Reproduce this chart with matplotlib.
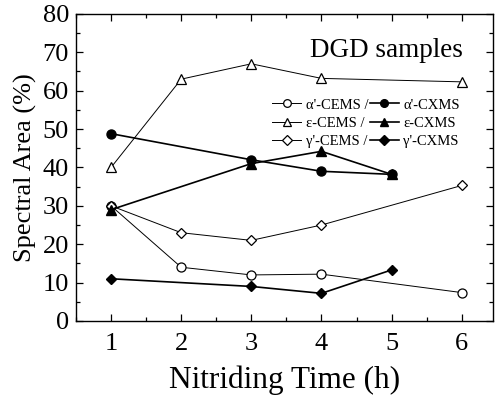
import matplotlib
matplotlib.use("Agg")
import matplotlib.pyplot as plt
from matplotlib.ticker import MultipleLocator

plt.rcParams['font.family'] = ['Liberation Serif', 'DejaVu Serif']
plt.rcParams['mathtext.fontset'] = 'stix'

# Data
alpha_cems_x = [1, 2, 3, 4, 6]
alpha_cems_y = [30, 14, 12, 12.2, 7.4]
alpha_cxms_x = [1, 3, 4, 5]
alpha_cxms_y = [48.8, 42, 39, 38.2]
eps_cems_x = [1, 2, 3, 4, 6]
eps_cems_y = [40, 63, 67, 63.2, 62.3]
eps_cxms_x = [1, 3, 4, 5]
eps_cxms_y = [29, 41, 44.2, 38.2]
gam_cems_x = [1, 2, 3, 4, 6]
gam_cems_y = [30, 23, 21, 25, 35.3]
gam_cxms_x = [1, 3, 4, 5]
gam_cxms_y = [11, 9, 7.2, 13.3]

xticks = [1, 2, 3, 4, 5, 6]
yticks = [0, 10, 20, 30, 40, 50, 60, 70, 80]

fig = plt.figure(figsize=(4.95, 4.03), dpi=100)
ax = fig.add_axes([0.1535, 0.2035, 0.843, 0.762])

ms = 6.5
thin = 0.7
thick = 1.2
ax.plot(alpha_cems_x, alpha_cems_y, '-', color='black', lw=thin, marker='o', ms=ms,
        mfc='white', mec='black', mew=0.9, label="α'-CEMS /", zorder=3)
ax.plot(eps_cems_x, eps_cems_y, '-', color='black', lw=thin, marker='^', ms=ms + 0.5,
        mfc='white', mec='black', mew=0.9, label="ε-CEMS /", zorder=3)
ax.plot(gam_cems_x, gam_cems_y, '-', color='black', lw=thin, marker='D', ms=ms - 1,
        mfc='white', mec='black', mew=0.9, label="γ'-CEMS /", zorder=3)
ax.plot(alpha_cxms_x, alpha_cxms_y, '-', color='black', lw=thick, marker='o', ms=ms,
        mfc='black', mec='black', label="α'-CXMS", zorder=4)
ax.plot(eps_cxms_x, eps_cxms_y, '-', color='black', lw=thick, marker='^', ms=ms + 0.5,
        mfc='black', mec='black', label="ε-CXMS", zorder=4)
ax.plot(gam_cxms_x, gam_cxms_y, '-', color='black', lw=thick, marker='D', ms=ms - 1,
        mfc='black', mec='black', label="γ'-CXMS", zorder=4)

ax.set_xlim(0.5, 6.45)
ax.set_ylim(0, 80)
ax.set_xticks(xticks)
ax.set_yticks(yticks)
ax.xaxis.set_minor_locator(MultipleLocator(0.5))
ax.yaxis.set_minor_locator(MultipleLocator(5))
ax.tick_params(which='both', direction='in', top=True, right=True, width=0.9)
ax.tick_params(which='major', length=5, labelsize=19)
ax.tick_params(axis='x', which='major', pad=9)
ax.tick_params(axis='y', which='major', pad=5)
ax.tick_params(which='minor', length=3)
for s in ax.spines.values():
    s.set_linewidth(1.0)

ax.set_xlabel('Nitriding Time (h)', fontsize=22.5, labelpad=7)
ax.set_ylabel('Spectral Area (%)', fontsize=19, labelpad=4)

ax.text(0.926, 0.88, 'DGD samples', transform=ax.transAxes, fontsize=19.5,
        ha='right', va='center')

leg = ax.legend(loc='upper left', bbox_to_anchor=(0.47, 0.725), ncol=2, frameon=False,
                fontsize=10.5, handlelength=2.0, handletextpad=0.3, columnspacing=0.1,
                labelspacing=0.35, borderpad=0, borderaxespad=0, markerscale=0.85)

fig.savefig('out.png', dpi=100)
